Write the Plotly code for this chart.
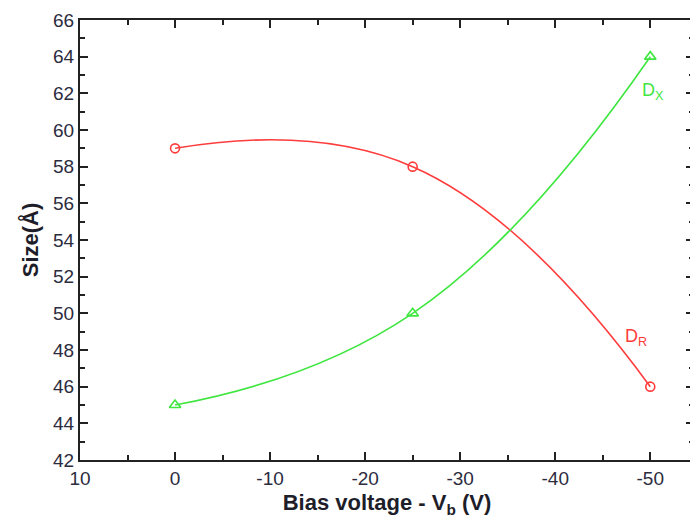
import plotly.graph_objects as go

# Data
bias_voltage = [0, -25, -50]
size_DR = [59, 58, 46]
size_DX = [45, 50, 64]

x_ticks = [10, 0, -10, -20, -30, -40, -50]
y_ticks = [42, 44, 46, 48, 50, 52, 54, 56, 58, 60, 62, 64, 66]

red = "#ff3c3c"
green = "#3fe63f"
font_family = "Liberation Sans, Arial, sans-serif"
tick_color = "#2c2c3e"

fig = go.Figure()
fig.add_trace(go.Scatter(
    x=bias_voltage, y=size_DR, mode="lines+markers", name="D_R",
    line=dict(color=red, width=1.6, shape="spline", smoothing=1.3),
    marker=dict(symbol="circle-open", size=9, color=red, line=dict(width=1.6, color=red)),
))
fig.add_trace(go.Scatter(
    x=bias_voltage, y=size_DX, mode="lines+markers", name="D_X",
    line=dict(color=green, width=1.6, shape="spline", smoothing=1.3),
    marker=dict(symbol="triangle-up-open", size=10, color=green, line=dict(width=1.6, color=green)),
))

fig.add_annotation(x=-50.3, y=62.1, text="D<sub>X</sub>", showarrow=False,
                   font=dict(family=font_family, size=18, color=green), xanchor="center", yanchor="middle")
fig.add_annotation(x=-48.5, y=48.7, text="D<sub>R</sub>", showarrow=False,
                   font=dict(family=font_family, size=18, color=red), xanchor="center", yanchor="middle")

axis_common = dict(
    showline=True, linecolor="#222", linewidth=2, mirror="ticks",
    ticks="inside", ticklen=8, tickwidth=2, tickcolor="#222",
    showgrid=False, zeroline=False,
    tickfont=dict(family=font_family, size=19, color=tick_color),
)

fig.update_xaxes(
    range=[10, -54.6], tickmode="array", tickvals=x_ticks,
    ticktext=[str(v) for v in x_ticks],
    minor=dict(dtick=5, ticks="inside", ticklen=5, tickwidth=2, tickcolor="#222"),
    title=dict(text="<b>Bias voltage - V<sub>b</sub> (V)</b>",
               font=dict(family=font_family, size=22, color="#1e1e2a"), standoff=7),
    **axis_common,
)
fig.update_yaxes(
    range=[42, 66], tickmode="array", tickvals=y_ticks,
    minor=dict(dtick=1, ticks="inside", ticklen=5, tickwidth=2, tickcolor="#222"),
    title=dict(text="<b>Size(Å)</b>", font=dict(family=font_family, size=22, color="#1e1e2a"), standoff=8),
    **axis_common,
)

fig.update_layout(
    width=696, height=523,
    margin=dict(l=80, r=0, t=20, b=63),
    plot_bgcolor="white", paper_bgcolor="white",
    showlegend=False,
)

fig.write_html(
    "out.html",
    config={"displayModeBar": False},
    post_script="document.body.style.margin='0';document.body.style.overflow='hidden';",
)
